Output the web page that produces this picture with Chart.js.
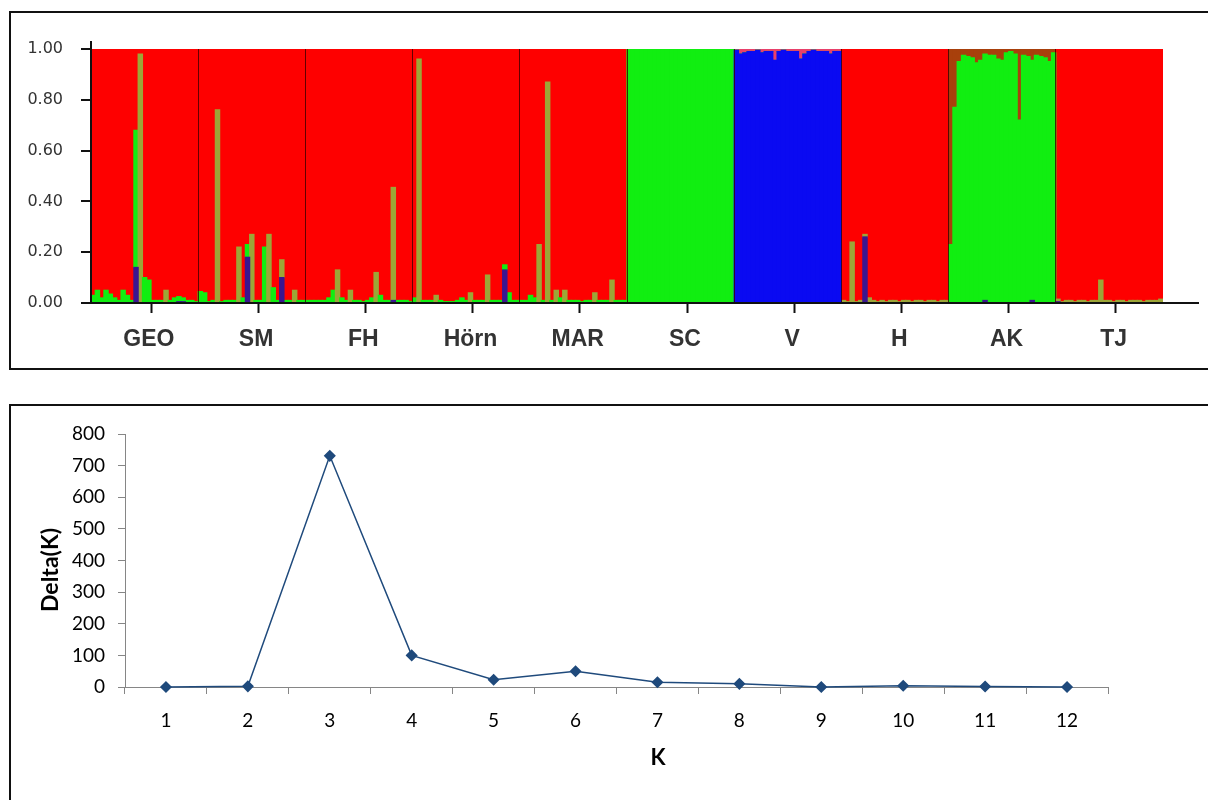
<!DOCTYPE html>
<html>
<head>
<meta charset="utf-8">
<script src="https://cdn.jsdelivr.net/npm/chart.js@4.4.0/dist/chart.umd.min.js"></script>
<style>
    body { margin: 0; background: #fff; width: 1208px; height: 800px; overflow: hidden; position: relative; }
    .box { position: absolute; border: 2px solid #111; box-sizing: border-box; }
    #boxTop { left: 9px; top: 11px; width: 1215px; height: 359px; }
    #boxBottom { left: 9px; top: 404px; width: 1215px; height: 420px; }
    #wrapTop { position: absolute; left: 0; top: 0; width: 1208px; height: 390px; }
    #wrapBottom { position: absolute; left: 0; top: 400px; width: 1208px; height: 400px; }
    .axisTitle { position: absolute; text-align: center; font: bold 22px Lato, sans-serif; line-height: 24px; color: #000; white-space: nowrap; }
    #kTitle { left: 628px; top: 745px; width: 60px; }
    #deltaTitle { top: 558px; width: 100px; left: -1px; transform: rotate(-90deg); transform-origin: 50% 50%; font-size: 23px; }
</style>
</head>
<body>
<div class="box" id="boxTop"></div>
<div class="box" id="boxBottom"></div>
<div id="wrapTop"><canvas id="structurePlot"></canvas></div>
<div id="wrapBottom"><canvas id="deltaKPlot"></canvas></div>
<div class="axisTitle" id="kTitle">K</div>
<div class="axisTitle" id="deltaTitle">Delta(K)</div>

<script>
// ---- STRUCTURE barplot (Q por individuo, 25 individuos por población) ----
// Solo se guardan verde y azul; el rojo es lo que falta para llegar a 1.
const perPop = 25;
const populations = ['GEO', 'SM', 'FH', 'Hörn', 'MAR', 'SC', 'V', 'H', 'AK', 'TJ'];

const geoGreen  = [0.03, 0.05, 0.02, 0.05, 0.035, 0.02, 0.01, 0.05, 0.03, 0.01, 0.54, 0.98, 0.10, 0.09, 0.01, 0.01, 0.01, 0.05, 0.01, 0.02, 0.02, 0.015, 0.01, 0.01, 0.005];
const geoBlue   = [0, 0, 0, 0, 0, 0, 0, 0, 0, 0, 0.14, 0, 0, 0, 0, 0, 0, 0, 0, 0, 0.005, 0.005, 0, 0, 0];
const smGreen   = [0.045, 0.04, 0.005, 0.01, 0.76, 0.005, 0.01, 0.01, 0.01, 0.22, 0.02, 0.05, 0.27, 0.01, 0.01, 0.22, 0.27, 0.06, 0.01, 0.07, 0.01, 0.01, 0.05, 0.01, 0.01];
const smBlue    = [0, 0, 0, 0, 0, 0, 0, 0, 0, 0, 0, 0.18, 0, 0, 0, 0, 0, 0, 0, 0.10, 0, 0, 0, 0, 0];
const fhGreen   = [0.01, 0.01, 0.01, 0.01, 0.01, 0.02, 0.05, 0.13, 0.02, 0.01, 0.05, 0.01, 0.01, 0.005, 0.01, 0.02, 0.12, 0.03, 0.01, 0.01, 0.445, 0.01, 0.01, 0.01, 0.005];
const fhBlue    = [0, 0, 0, 0, 0, 0, 0, 0, 0, 0, 0, 0, 0, 0, 0, 0, 0, 0, 0, 0, 0.01, 0, 0, 0, 0];
const hornGreen = [0.02, 0.96, 0.01, 0.01, 0.01, 0.03, 0.01, 0.005, 0.005, 0.005, 0.01, 0.02, 0.01, 0.04, 0.01, 0.01, 0.01, 0.11, 0.01, 0.01, 0.01, 0.02, 0.04, 0.01, 0.01];
const hornBlue  = [0, 0, 0, 0, 0, 0, 0, 0, 0, 0, 0, 0, 0, 0, 0, 0, 0, 0, 0, 0, 0, 0.13, 0, 0, 0];
const marGreen  = [0.01, 0.01, 0.03, 0.02, 0.23, 0.01, 0.87, 0.01, 0.05, 0.02, 0.05, 0.01, 0.01, 0.01, 0.005, 0.01, 0.01, 0.04, 0.01, 0.01, 0.01, 0.09, 0.01, 0.01, 0.01];
const marBlue   = [0, 0, 0, 0, 0, 0, 0, 0, 0, 0, 0, 0, 0, 0, 0, 0, 0, 0, 0, 0, 0, 0, 0, 0, 0];
const scGreen   = [1, 1, 1, 1, 1, 1, 1, 1, 1, 1, 1, 1, 1, 1, 1, 1, 1, 1, 1, 1, 1, 1, 1, 1, 1];
const scBlue    = [0, 0, 0, 0, 0, 0, 0, 0, 0, 0, 0, 0, 0, 0, 0, 0, 0, 0, 0, 0, 0, 0, 0, 0, 0];
const vGreen    = [0, 0, 0, 0, 0, 0, 0, 0, 0, 0, 0, 0, 0, 0, 0, 0, 0, 0, 0, 0, 0, 0, 0, 0, 0];
const vBlue     = [0.995, 0.98, 0.985, 0.99, 0.99, 0.995, 0.985, 0.99, 0.99, 0.955, 0.99, 0.995, 0.99, 0.99, 0.99, 0.96, 0.98, 0.99, 0.995, 0.99, 0.99, 0.99, 0.98, 0.99, 0.99];
const hGreen    = [0.01, 0.005, 0.24, 0.005, 0.01, 0.01, 0.02, 0.01, 0.005, 0.01, 0.005, 0.01, 0.01, 0.005, 0.01, 0.01, 0.005, 0.01, 0.01, 0.005, 0.01, 0.01, 0.005, 0.01, 0.01];
const hBlue     = [0, 0, 0, 0, 0, 0.26, 0, 0, 0, 0, 0, 0, 0, 0, 0, 0, 0, 0, 0, 0, 0, 0, 0, 0, 0];
const akGreen   = [0.23, 0.77, 0.95, 0.975, 0.97, 0.965, 0.945, 0.955, 0.97, 0.975, 0.975, 0.96, 0.955, 0.985, 0.99, 0.98, 0.72, 0.975, 0.97, 0.945, 0.975, 0.97, 0.965, 0.95, 0.985];
const akBlue    = [0, 0, 0, 0, 0, 0, 0, 0, 0.01, 0, 0, 0, 0, 0, 0, 0, 0, 0, 0, 0.01, 0, 0, 0, 0, 0];
const tjGreen   = [0.01, 0.005, 0.01, 0.01, 0.005, 0.01, 0.01, 0.005, 0.01, 0.01, 0.09, 0.01, 0.01, 0.005, 0.01, 0.01, 0.005, 0.01, 0.01, 0.01, 0.005, 0.01, 0.01, 0.01, 0.015];
const tjBlue    = [0.005, 0, 0, 0, 0, 0, 0, 0, 0, 0, 0, 0, 0, 0, 0, 0, 0, 0, 0, 0, 0, 0, 0, 0, 0];

// ---- Delta(K) de Evanno ----
const kValues = ['1', '2', '3', '4', '5', '6', '7', '8', '9', '10', '11', '12'];
const deltaK  = [0, 2, 731, 100, 23, 50, 15, 10, 0, 4, 1.5, 0];

// colores: las barras verdes angostas se ven "oliva" en la imagen original
const oliveBars = { GEO: [11, 17], SM: [4, 9, 12, 16, 19, 22], FH: [7, 10, 16, 20], 'Hörn': [1, 5, 13, 17], MAR: [4, 6, 8, 10, 17, 21] };
const olivePops = ['H', 'TJ'];

const greenAll = [geoGreen, smGreen, fhGreen, hornGreen, marGreen, scGreen, vGreen, hGreen, akGreen, tjGreen].flat();
const blueAll  = [geoBlue, smBlue, fhBlue, hornBlue, marBlue, scBlue, vBlue, hBlue, akBlue, tjBlue].flat();
const redAll   = greenAll.map((g, i) => +(1 - g - blueAll[i]).toFixed(3));
const indLabels = populations.flatMap(p => Array.from({ length: perPop }, (_, i) => p + ' ' + (i + 1)));

const popOf = i => populations[Math.floor(i / perPop)];

function colorVerde(ctx) {
    const p = popOf(ctx.dataIndex);
    if (olivePops.includes(p)) return '#9ca637';
    if ((oliveBars[p] || []).includes(ctx.dataIndex % perPop)) return '#9ca637';
    return '#11ee11';
}
function colorRojo(ctx) {
    const p = popOf(ctx.dataIndex);
    if (p === 'AK') return '#a8400c';
    if (p === 'V') return '#e8406a';
    return '#fe0000';
}
function colorAzul(ctx) {
    return popOf(ctx.dataIndex) === 'V' ? '#0a0af2' : '#3a1690';
}

// los ejes de STRUCTURE siguen un poco más allá del área de barras
const extenderEjes = {
    id: 'extenderEjes',
    afterDraw(chart) {
        const { ctx, chartArea } = chart;
        ctx.save();
        ctx.strokeStyle = '#111';
        ctx.lineWidth = 2;
        ctx.beginPath();
        ctx.moveTo(chartArea.right, chartArea.bottom);
        ctx.lineTo(chartArea.right + 36, chartArea.bottom);
        ctx.moveTo(chartArea.left, chartArea.top);
        ctx.lineTo(chartArea.left, chartArea.top - 8);
        ctx.stroke();
        ctx.restore();
    }
};

const barStyle = { barPercentage: 1, categoryPercentage: 1, borderWidth: 0, inflateAmount: 0.6 };

new Chart(document.getElementById('structurePlot'), {
    type: 'bar',
    data: {
        labels: indLabels,
        datasets: [
            { label: 'azul', data: blueAll, backgroundColor: colorAzul, ...barStyle },
            { label: 'verde', data: greenAll, backgroundColor: colorVerde, ...barStyle },
            { label: 'rojo', data: redAll, backgroundColor: colorRojo, ...barStyle }
        ]
    },
    options: {
        responsive: true,
        maintainAspectRatio: false,
        animation: false,
        layout: { padding: { top: 49, right: 45, left: 0, bottom: 0 } },
        plugins: { legend: { display: false }, tooltip: { enabled: false } },
        scales: {
            x: {
                stacked: true,
                afterFit(s) { s.height = 87; },
                ticks: {
                    autoSkip: false, maxRotation: 0, padding: 13, color: '#333',
                    font: { family: 'Liberation Sans', size: 23, weight: 'bold' },
                    callback: (v, i) => (i % perPop === 13 ? populations[Math.floor(i / perPop)] : '')
                },
                grid: {
                    z: 1,
                    offset: true,
                    drawOnChartArea: true,
                    tickLength: 10,
                    tickWidth: 2,
                    lineWidth: 1,
                    color: ctx => (ctx.index > 0 && ctx.index < indLabels.length && ctx.index % perPop === 0 ? 'rgba(60,0,0,0.8)' : 'rgba(0,0,0,0)'),
                    tickColor: ctx => (ctx.index % perPop === 14 ? '#111' : 'rgba(0,0,0,0)')
                },
                border: { color: '#111', width: 2, z: 1 }
            },
            y: {
                stacked: true,
                min: 0,
                max: 1,
                afterFit(s) { s.width = 91; },
                ticks: {
                    stepSize: 0.2, padding: 18, color: '#333',
                    font: { family: 'DejaVu Sans', size: 16 },
                    callback: v => v.toFixed(2)
                },
                grid: { drawOnChartArea: false, tickLength: 10, color: '#111', lineWidth: 2 },
                border: { color: '#111', width: 2, z: 1 }
            }
        }
    },
    plugins: [extenderEjes]
});

// ---- gráfico de Delta(K) ----
const azulExcel = '#1f4a7c';
new Chart(document.getElementById('deltaKPlot'), {
    type: 'line',
    data: {
        labels: kValues,
        datasets: [{
            data: deltaK,
            borderColor: azulExcel,
            borderWidth: 1.5,
            pointStyle: 'rectRot',
            pointRadius: 5,
            pointBackgroundColor: azulExcel,
            pointBorderColor: azulExcel,
            tension: 0,
            clip: false
        }]
    },
    options: {
        responsive: true,
        maintainAspectRatio: false,
        animation: false,
        layout: { padding: { top: 34, right: 100, left: 0, bottom: 0 } },
        plugins: { legend: { display: false }, tooltip: { enabled: false } },
        scales: {
            x: {
                offset: true,
                afterFit(s) { s.height = 113; },
                grid: { offset: true, drawOnChartArea: false, tickLength: 7, color: '#868686' },
                border: { color: '#868686' },
                ticks: { padding: 15, color: '#000', font: { family: 'Lato', size: 19 } }
            },
            y: {
                min: 0,
                max: 800,
                afterFit(s) { s.width = 125; },
                ticks: { stepSize: 100, padding: 13, color: '#000', font: { family: 'Lato', size: 19 } },
                grid: { drawOnChartArea: false, tickLength: 7, color: '#868686' },
                border: { color: '#868686' }
            }
        }
    }
});
</script>
</body>
</html>
